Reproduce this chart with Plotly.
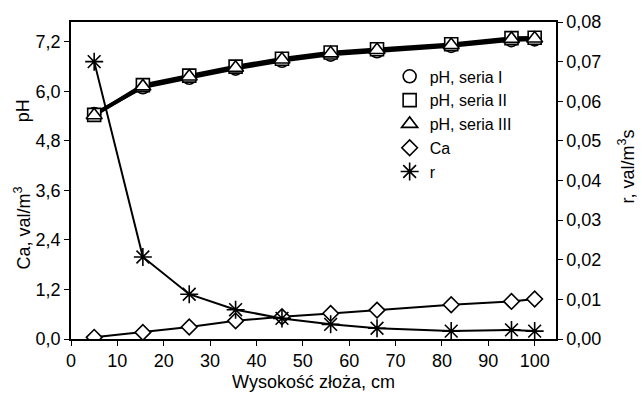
import plotly.graph_objects as go

# Data
height_cm = [5, 15.5, 25.5, 35.5, 45.5, 56, 66, 82, 95, 100]
ph_seria_1 = [5.45, 6.10, 6.33, 6.55, 6.74, 6.89, 6.97, 7.10, 7.24, 7.26]
ph_seria_2 = [5.43, 6.15, 6.38, 6.60, 6.79, 6.94, 7.02, 7.14, 7.29, 7.30]
ph_seria_3 = [5.42, 6.12, 6.36, 6.57, 6.77, 6.92, 7.00, 7.12, 7.27, 7.28]
ca_values = [0.04, 0.16, 0.29, 0.44, 0.54, 0.62, 0.70, 0.83, 0.91, 0.97]
r_values = [0.0700, 0.0207, 0.0113, 0.0074, 0.0052, 0.0037, 0.0027, 0.0020, 0.0023, 0.0020]

left_ticks = [0.0, 1.2, 2.4, 3.6, 4.8, 6.0, 7.2]
right_ticks = [0.0, 0.01, 0.02, 0.03, 0.04, 0.05, 0.06, 0.07, 0.08]
x_ticks = [0, 10, 20, 30, 40, 50, 60, 70, 80, 90, 100]

FONT = "Liberation Sans, Arial, sans-serif"
BLACK = "#000000"

fig = go.Figure()

# lines (no legend)
for ys in (ph_seria_1, ph_seria_2, ph_seria_3):
    fig.add_trace(go.Scatter(x=height_cm, y=ys, mode="lines",
                             line=dict(color=BLACK, width=3.5), showlegend=False,
                             hoverinfo="skip"))
fig.add_trace(go.Scatter(x=height_cm, y=ca_values, mode="lines",
                         line=dict(color=BLACK, width=2), showlegend=False,
                         hoverinfo="skip"))
fig.add_trace(go.Scatter(x=height_cm, y=r_values, mode="lines", yaxis="y2",
                         line=dict(color=BLACK, width=2), showlegend=False,
                         hoverinfo="skip"))

# markers (legend)
def mk(symbol, size):
    return dict(symbol=symbol, size=size, color="white",
                line=dict(color=BLACK, width=1.6))

fig.add_trace(go.Scatter(x=height_cm, y=ph_seria_1, mode="markers",
                         name="pH, seria I", marker=mk("circle", 13)))
fig.add_trace(go.Scatter(x=height_cm, y=ph_seria_2, mode="markers",
                         name="pH, seria II", marker=mk("square", 13)))
fig.add_trace(go.Scatter(x=height_cm, y=ph_seria_3, mode="markers",
                         name="pH, seria III", marker=mk("triangle-up", 14)))
fig.add_trace(go.Scatter(x=height_cm, y=ca_values, mode="markers",
                         name="Ca", marker=mk("diamond", 12)))
fig.add_trace(go.Scatter(x=height_cm, y=r_values, mode="markers", yaxis="y2",
                         name="r",
                         marker=dict(symbol="asterisk-open", size=15, color=BLACK,
                                     line=dict(color=BLACK, width=1.6))))

axis_common = dict(showline=True, linecolor=BLACK, linewidth=1.5,
                   ticks="outside", ticklen=5, tickwidth=1.3, tickcolor=BLACK,
                   showgrid=False, zeroline=False,
                   tickfont=dict(family=FONT, size=18, color=BLACK))

fig.update_layout(
    width=642, height=401,
    margin=dict(l=71, r=86, t=15, b=58),
    paper_bgcolor="white", plot_bgcolor="white",
    separators=", ",
    font=dict(family=FONT, color=BLACK),
    xaxis=dict(range=[0, 104.6], tickvals=x_ticks, mirror=True,
               title=dict(text="Wysokość złoża, cm", standoff=5,
                          font=dict(family=FONT, size=18, color=BLACK)),
               **axis_common),
    yaxis=dict(range=[0, 7.68], tickvals=left_ticks, tickformat=".1f",
               **axis_common),
    yaxis2=dict(range=[0, 0.08], tickvals=right_ticks, tickformat=".2f",
                overlaying="y", side="right", **axis_common),
    legend=dict(x=0.657, y=0.882, xanchor="left", yanchor="top",
                bgcolor="rgba(0,0,0,0)", borderwidth=0,
                font=dict(family=FONT, size=16, color=BLACK),
                tracegroupgap=0),
    showlegend=True,
)

# left axis titles (two separate labels)
fig.add_annotation(text="pH", xref="paper", yref="paper", x=-0.1, y=0.72,
                   textangle=-90, showarrow=False, xanchor="center", yanchor="middle",
                   font=dict(family=FONT, size=18, color=BLACK))
fig.add_annotation(text="Ca, val/m<sup>3</sup>", xref="paper", yref="paper",
                   x=-0.1, y=0.35, textangle=-90, showarrow=False,
                   xanchor="center", yanchor="middle",
                   font=dict(family=FONT, size=18, color=BLACK))
# right axis title
fig.add_annotation(text="r, val/m<sup>3</sup>s", xref="paper", yref="paper",
                   x=1.145, y=0.545, textangle=-90, showarrow=False,
                   xanchor="center", yanchor="middle",
                   font=dict(family=FONT, size=18, color=BLACK))

fig.write_html("out.html")
